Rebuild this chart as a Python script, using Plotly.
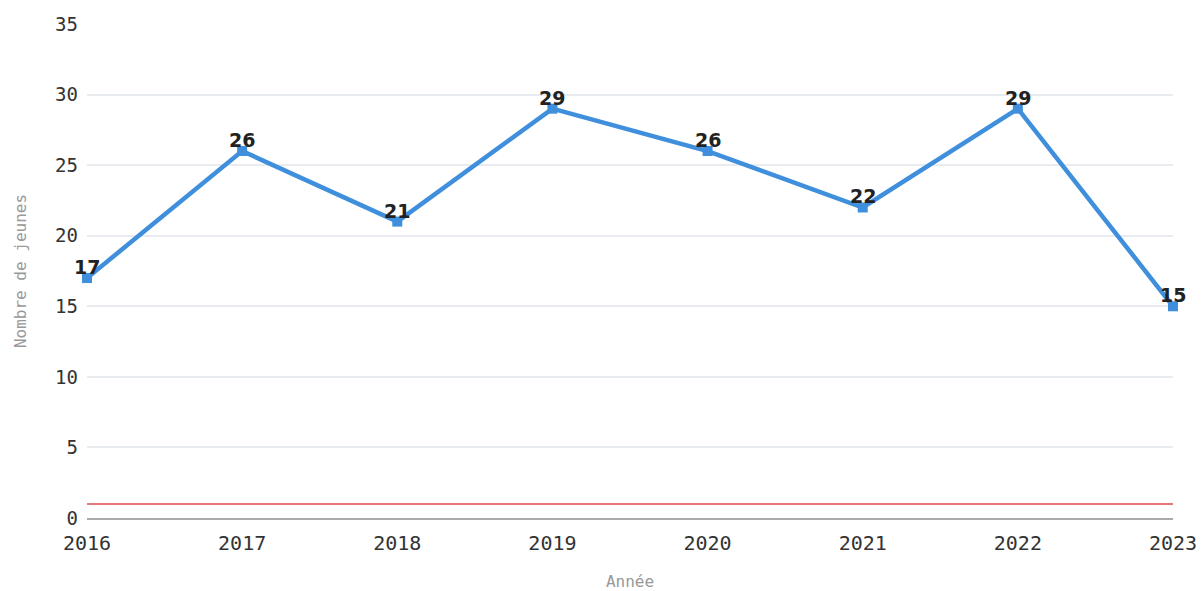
import plotly.graph_objects as go

annees = [2016, 2017, 2018, 2019, 2020, 2021, 2022, 2023]
nombre_jeunes = [17, 26, 21, 29, 26, 22, 29, 15]
reference = [1, 1, 1, 1, 1, 1, 1, 1]

fig = go.Figure()

fig.add_trace(go.Scatter(
    x=annees, y=reference, mode="lines",
    line=dict(color="#e8777a", width=2),
    hoverinfo="skip", showlegend=False,
))

fig.add_trace(go.Scatter(
    x=annees, y=nombre_jeunes, mode="lines+markers",
    line=dict(color="#3f8fdc", width=4.5),
    marker=dict(symbol="square", size=10, color="#3f8fdc"),
    showlegend=False, cliponaxis=False,
))

# value labels sitting just above each point
for a, v in zip(annees, nombre_jeunes):
    fig.add_annotation(
        x=a, y=v, text=str(v), showarrow=False, yshift=11,
        font=dict(family="DejaVu Sans", size=19, color="#222222", weight="bold"),
    )

fig.update_layout(
    width=1203, height=591,
    margin=dict(l=87, r=30, t=24, b=73),
    paper_bgcolor="white", plot_bgcolor="white",
    font=dict(family="DejaVu Sans Mono", color="#333333"),
)

fig.update_xaxes(
    range=[2016, 2023], tickvals=annees, ticktext=[str(a) for a in annees],
    tickfont=dict(size=20, color="#333333", family="DejaVu Sans Mono"),
    showgrid=False, zeroline=False,
    showline=True, linecolor="#aaaaaa", linewidth=2,
    title=dict(text="Année", font=dict(size=16, color="#999999", family="DejaVu Sans Mono"), standoff=22),
    ticks="", ticklen=0, ticklabelstandoff=6, automargin=False,
)

fig.update_yaxes(
    range=[0, 35], dtick=5,
    tickfont=dict(size=19, color="#333333", family="DejaVu Sans Mono"),
    showgrid=True, gridcolor="#e8ecf0", gridwidth=1.5,
    zeroline=False,
    title=dict(text="Nombre de jeunes", font=dict(size=16, color="#999999", family="DejaVu Sans Mono"), standoff=24),
    ticks="", ticklabelstandoff=8, automargin=False,
)

fig.write_html("out.html")
